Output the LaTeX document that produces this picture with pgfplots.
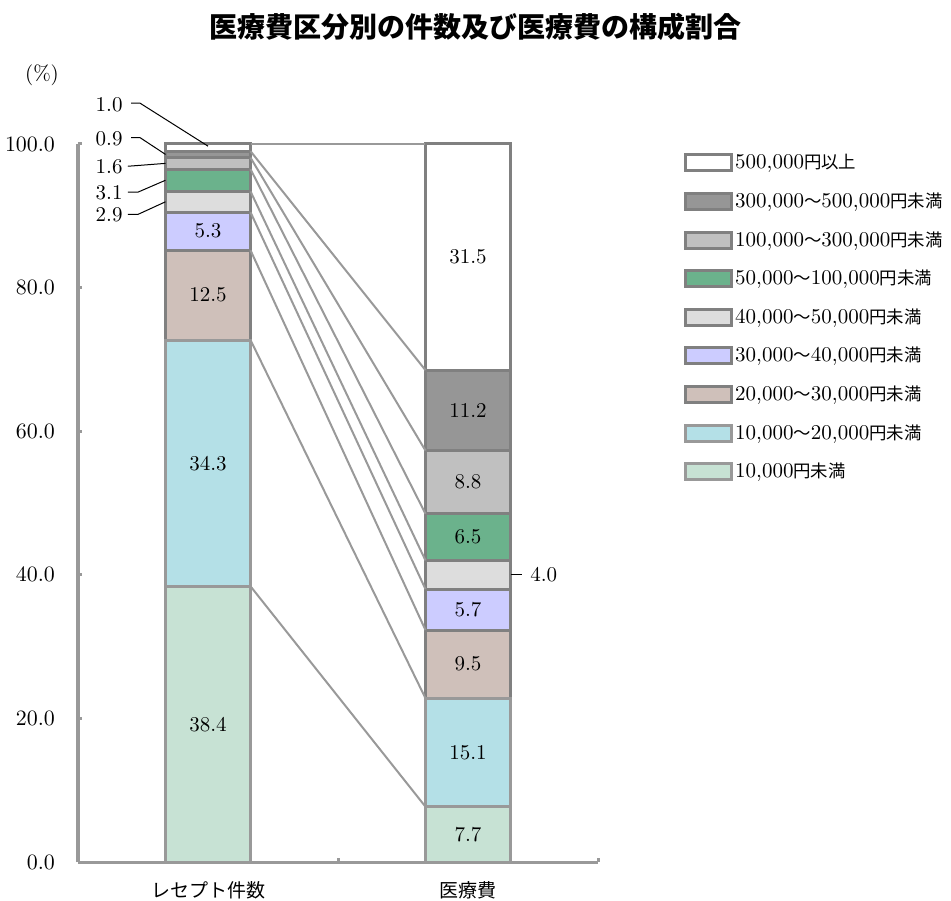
\documentclass[border=0pt]{standalone}
\usepackage{pgfplots}
\pgfplotsset{compat=1.18}
\usepackage{pgfplotstable}
\usepackage{fontspec}
\newfontfamily\cjk{Noto Sans CJK JP}
\newcommand{\jp}[1]{{\fontsize{8.7}{10}\selectfont\cjk #1}}

\definecolor{c1}{HTML}{C7E2D4}
\definecolor{c2}{HTML}{B4E0E7}
\definecolor{c3}{HTML}{CFC0BA}
\definecolor{c4}{HTML}{CCCCFF}
\definecolor{c5}{HTML}{DDDDDD}
\definecolor{c6}{HTML}{6BB28C}
\definecolor{c7}{HTML}{C0C0C0}
\definecolor{c8}{HTML}{969696}
\definecolor{c9}{HTML}{FFFFFF}
\definecolor{bdark}{HTML}{808080}
\definecolor{blight}{HTML}{999999}
\definecolor{axisgray}{HTML}{999999}

% shares of each cost class, bottom to top
\pgfplotstableread{
x   s1   s2   s3   s4  s5  s6  s7  s8   s9
0.5 38.4 34.3 12.5 5.3 2.9 3.1 1.6 0.9  1.0
1.5 7.7  15.1 9.5  5.7 4.0 6.5 8.8 11.2 31.5
}\shares

\pgfplotsset{
  seg/.style 2 args={fill=#1, draw=#2, line width=1.5pt,
    legend image code/.code={\draw[fill=#1, draw=#2, line width=1.5pt] (0pt,-4pt) rectangle (23pt,4pt);}},
  conn/.style={draw=axisgray, line width=1pt, forget plot},
}
\tikzset{lead/.style={draw=black, line width=0.5pt}}

\begin{document}
\begin{tikzpicture}
\useasboundingbox (0pt,0pt) rectangle (475.5pt,450pt);
\begin{axis}[
  at={(39pt,19pt)}, anchor=south west,
  width=260pt, height=359pt, scale only axis,
  xmin=0, xmax=2, ymin=0, ymax=100,
  clip=false,
  ybar stacked, bar width=42.5pt,
  axis x line=bottom, axis y line=left,
  axis line style={-, draw=axisgray, line width=1.5pt},
  font=\fontsize{10.5}{12}\selectfont,
  xtick={0.5,1.5},
  xticklabels={{\fontsize{9.5}{11}\selectfont\cjk レセプト件数},{\fontsize{9.5}{11}\selectfont\cjk 医療費}},
  xtick style={draw=none},
  xticklabel style={yshift=-6pt},
  ytick={0,20,...,100},
  yticklabel={\pgfmathprintnumber[fixed,fixed zerofill,precision=1]{\tick}},
  yticklabel style={xshift=-8pt},
  ytick style={draw=axisgray, line width=1.5pt},
  tick align=inside, major tick length=2pt,
  legend style={draw=none, at={(axis cs:2.33,99.1)}, anchor=north west,
    inner sep=0pt, row sep=7.3pt,
    nodes={inner sep=1pt, text height=8pt, text depth=2pt, anchor=west}},
  legend cell align=left,
  reverse legend,
]
\addplot[seg={c1}{blight}] table[x=x,y=s1]{\shares};
\addplot[seg={c2}{blight}] table[x=x,y=s2]{\shares};
\addplot[seg={c3}{bdark}] table[x=x,y=s3]{\shares};
\addplot[seg={c4}{bdark}] table[x=x,y=s4]{\shares};
\addplot[seg={c5}{bdark}] table[x=x,y=s5]{\shares};
\addplot[seg={c6}{bdark}] table[x=x,y=s6]{\shares};
\addplot[seg={c7}{bdark}] table[x=x,y=s7]{\shares};
\addplot[seg={c8}{bdark}] table[x=x,y=s8]{\shares};
\addplot[seg={c9}{bdark}] table[x=x,y=s9]{\shares};
\legend{
  {10,000\jp{円未満}},
  {10,000\jp{～}20,000\jp{円未満}},
  {20,000\jp{～}30,000\jp{円未満}},
  {30,000\jp{～}40,000\jp{円未満}},
  {40,000\jp{～}50,000\jp{円未満}},
  {50,000\jp{～}100,000\jp{円未満}},
  {100,000\jp{～}300,000\jp{円未満}},
  {300,000\jp{～}500,000\jp{円未満}},
  {500,000\jp{円以上}}}
% small ticks on the category axis
\draw[axisgray, line width=1.5pt] (axis cs:1,0) -- ++(0,2pt);
\draw[axisgray, line width=1.5pt] (axis cs:2,0) -- ++(0,2pt);
\end{axis}

\begin{axis}[
  at={(39pt,19pt)}, anchor=south west,
  width=260pt, height=359pt, scale only axis,
  xmin=0, xmax=2, ymin=0, ymax=100,
  clip=false, hide axis,
  font=\fontsize{10.5}{12}\selectfont,
]
% connectors between the cumulative boundaries of both bars
\addplot[conn] coordinates {(0.6635,38.4) (1.3365,7.7)};
\addplot[conn] coordinates {(0.6635,72.7) (1.3365,22.8)};
\addplot[conn] coordinates {(0.6635,85.2) (1.3365,32.3)};
\addplot[conn] coordinates {(0.6635,90.5) (1.3365,38.0)};
\addplot[conn] coordinates {(0.6635,93.4) (1.3365,42.0)};
\addplot[conn] coordinates {(0.6635,96.5) (1.3365,48.5)};
\addplot[conn] coordinates {(0.6635,98.1) (1.3365,57.3)};
\addplot[conn] coordinates {(0.6635,99.0) (1.3365,68.5)};
\addplot[conn] coordinates {(0.6635,100) (1.3365,100)};

% values inside the bars
\node at (axis cs:0.5,19.2) {38.4};
\node at (axis cs:0.5,55.55) {34.3};
\node at (axis cs:0.5,78.95) {12.5};
\node at (axis cs:0.5,87.85) {5.3};
\node at (axis cs:1.5,3.85) {7.7};
\node at (axis cs:1.5,15.25) {15.1};
\node at (axis cs:1.5,27.55) {9.5};
\node at (axis cs:1.5,35.15) {5.7};
\node at (axis cs:1.5,45.25) {6.5};
\node at (axis cs:1.5,52.9) {8.8};
\node at (axis cs:1.5,62.9) {11.2};
\node at (axis cs:1.5,84.25) {31.5};

% small shares with leader lines
\node[anchor=east, inner sep=0pt] at (axis cs:0.173,105.5) {1.0};
\draw[lead] (axis cs:0.204,105.7) -- (axis cs:0.238,105.7) -- (axis cs:0.5,99.7);
\node[anchor=east, inner sep=0pt] at (axis cs:0.173,100.7) {0.9};
\draw[lead] (axis cs:0.204,100.9) -- (axis cs:0.238,100.9) -- (axis cs:0.3365,98.55);
\node[anchor=east, inner sep=0pt] at (axis cs:0.173,96.8) {1.6};
\draw[lead] (axis cs:0.192,96.9) -- (axis cs:0.3365,97.3);
\node[anchor=east, inner sep=0pt] at (axis cs:0.173,93.2) {3.1};
\draw[lead] (axis cs:0.192,93.3) -- (axis cs:0.231,93.3) -- (axis cs:0.3365,94.95);
\node[anchor=east, inner sep=0pt] at (axis cs:0.173,90.1) {2.9};
\draw[lead] (axis cs:0.192,90.2) -- (axis cs:0.231,90.2) -- (axis cs:0.3365,91.95);
\draw[lead] (axis cs:1.6635,40) -- (axis cs:1.708,40);
\node[anchor=west, inner sep=0pt] at (axis cs:1.738,40) {4.0};
\end{axis}

\node[font=\fontsize{14}{16}\selectfont\cjk\bfseries] at (237.75pt,436.5pt) {医療費区分別の件数及び医療費の構成割合};
\node[font=\fontsize{10.5}{12}\selectfont] at (21pt,412.5pt) {(\%)};
\end{tikzpicture}
\end{document}
